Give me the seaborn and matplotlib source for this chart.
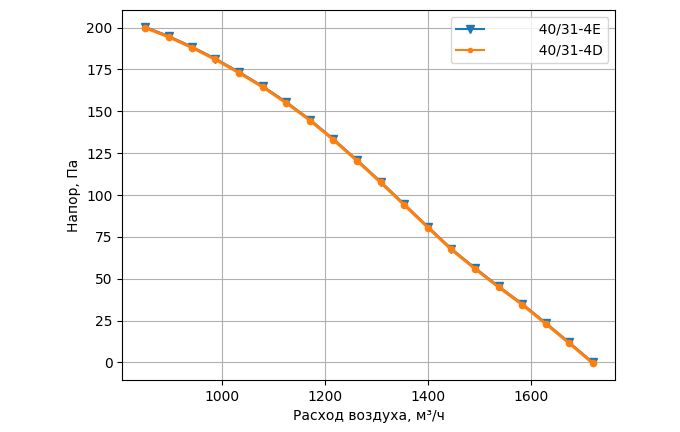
import numpy as np
import pandas as pd
import matplotlib
matplotlib.use("Agg")
import matplotlib.pyplot as plt
import seaborn as sns

## air flow, m3/h
flow = [850, 896, 942, 987, 1033, 1079, 1125, 1171, 1216, 1262,
        1308, 1354, 1400, 1445, 1491, 1537, 1583, 1629, 1674, 1720]
## pressure, Pa
head_4e = [200.5, 195, 188.5, 181.5, 173.5, 165, 155.5, 145, 133.5, 121,
           108, 94.5, 81, 68, 56.5, 45.5, 35, 23.5, 12, 0]
head_4d = [200, 194.5, 188, 181, 173, 164.5, 155, 144.5, 133, 120.5,
           107.5, 94, 80.5, 67.5, 56, 45, 34.5, 23, 11.5, -0.5]
labels = ["          40/31-4E", "          40/31-4D"]

fig, ax = plt.subplots(figsize=(6.8, 4.32), dpi=100)

sns.lineplot(x=flow, y=head_4e, ax=ax, color="C0", marker="v", markersize=6,
             markeredgecolor="C0", markeredgewidth=1, linewidth=1.5, label=labels[0])
sns.lineplot(x=flow, y=head_4d, ax=ax, color="C1", marker=".", markersize=9,
             markeredgecolor="C1", markeredgewidth=1, linewidth=2.2, label=labels[1])

ax.grid(True)
ax.set_xlabel("Расход воздуха, м³/ч")
ax.set_ylabel("Напор, Па")
ax.set_xticks([1000, 1200, 1400, 1600])
leg = ax.legend(loc="upper right")
for line in leg.get_lines():
    line.set_linewidth(1.5)
leg.get_lines()[1].set_markersize(6)

fig.subplots_adjust(left=0.18, right=0.905, top=0.977, bottom=0.12)
fig.savefig("out.png", dpi=100)
